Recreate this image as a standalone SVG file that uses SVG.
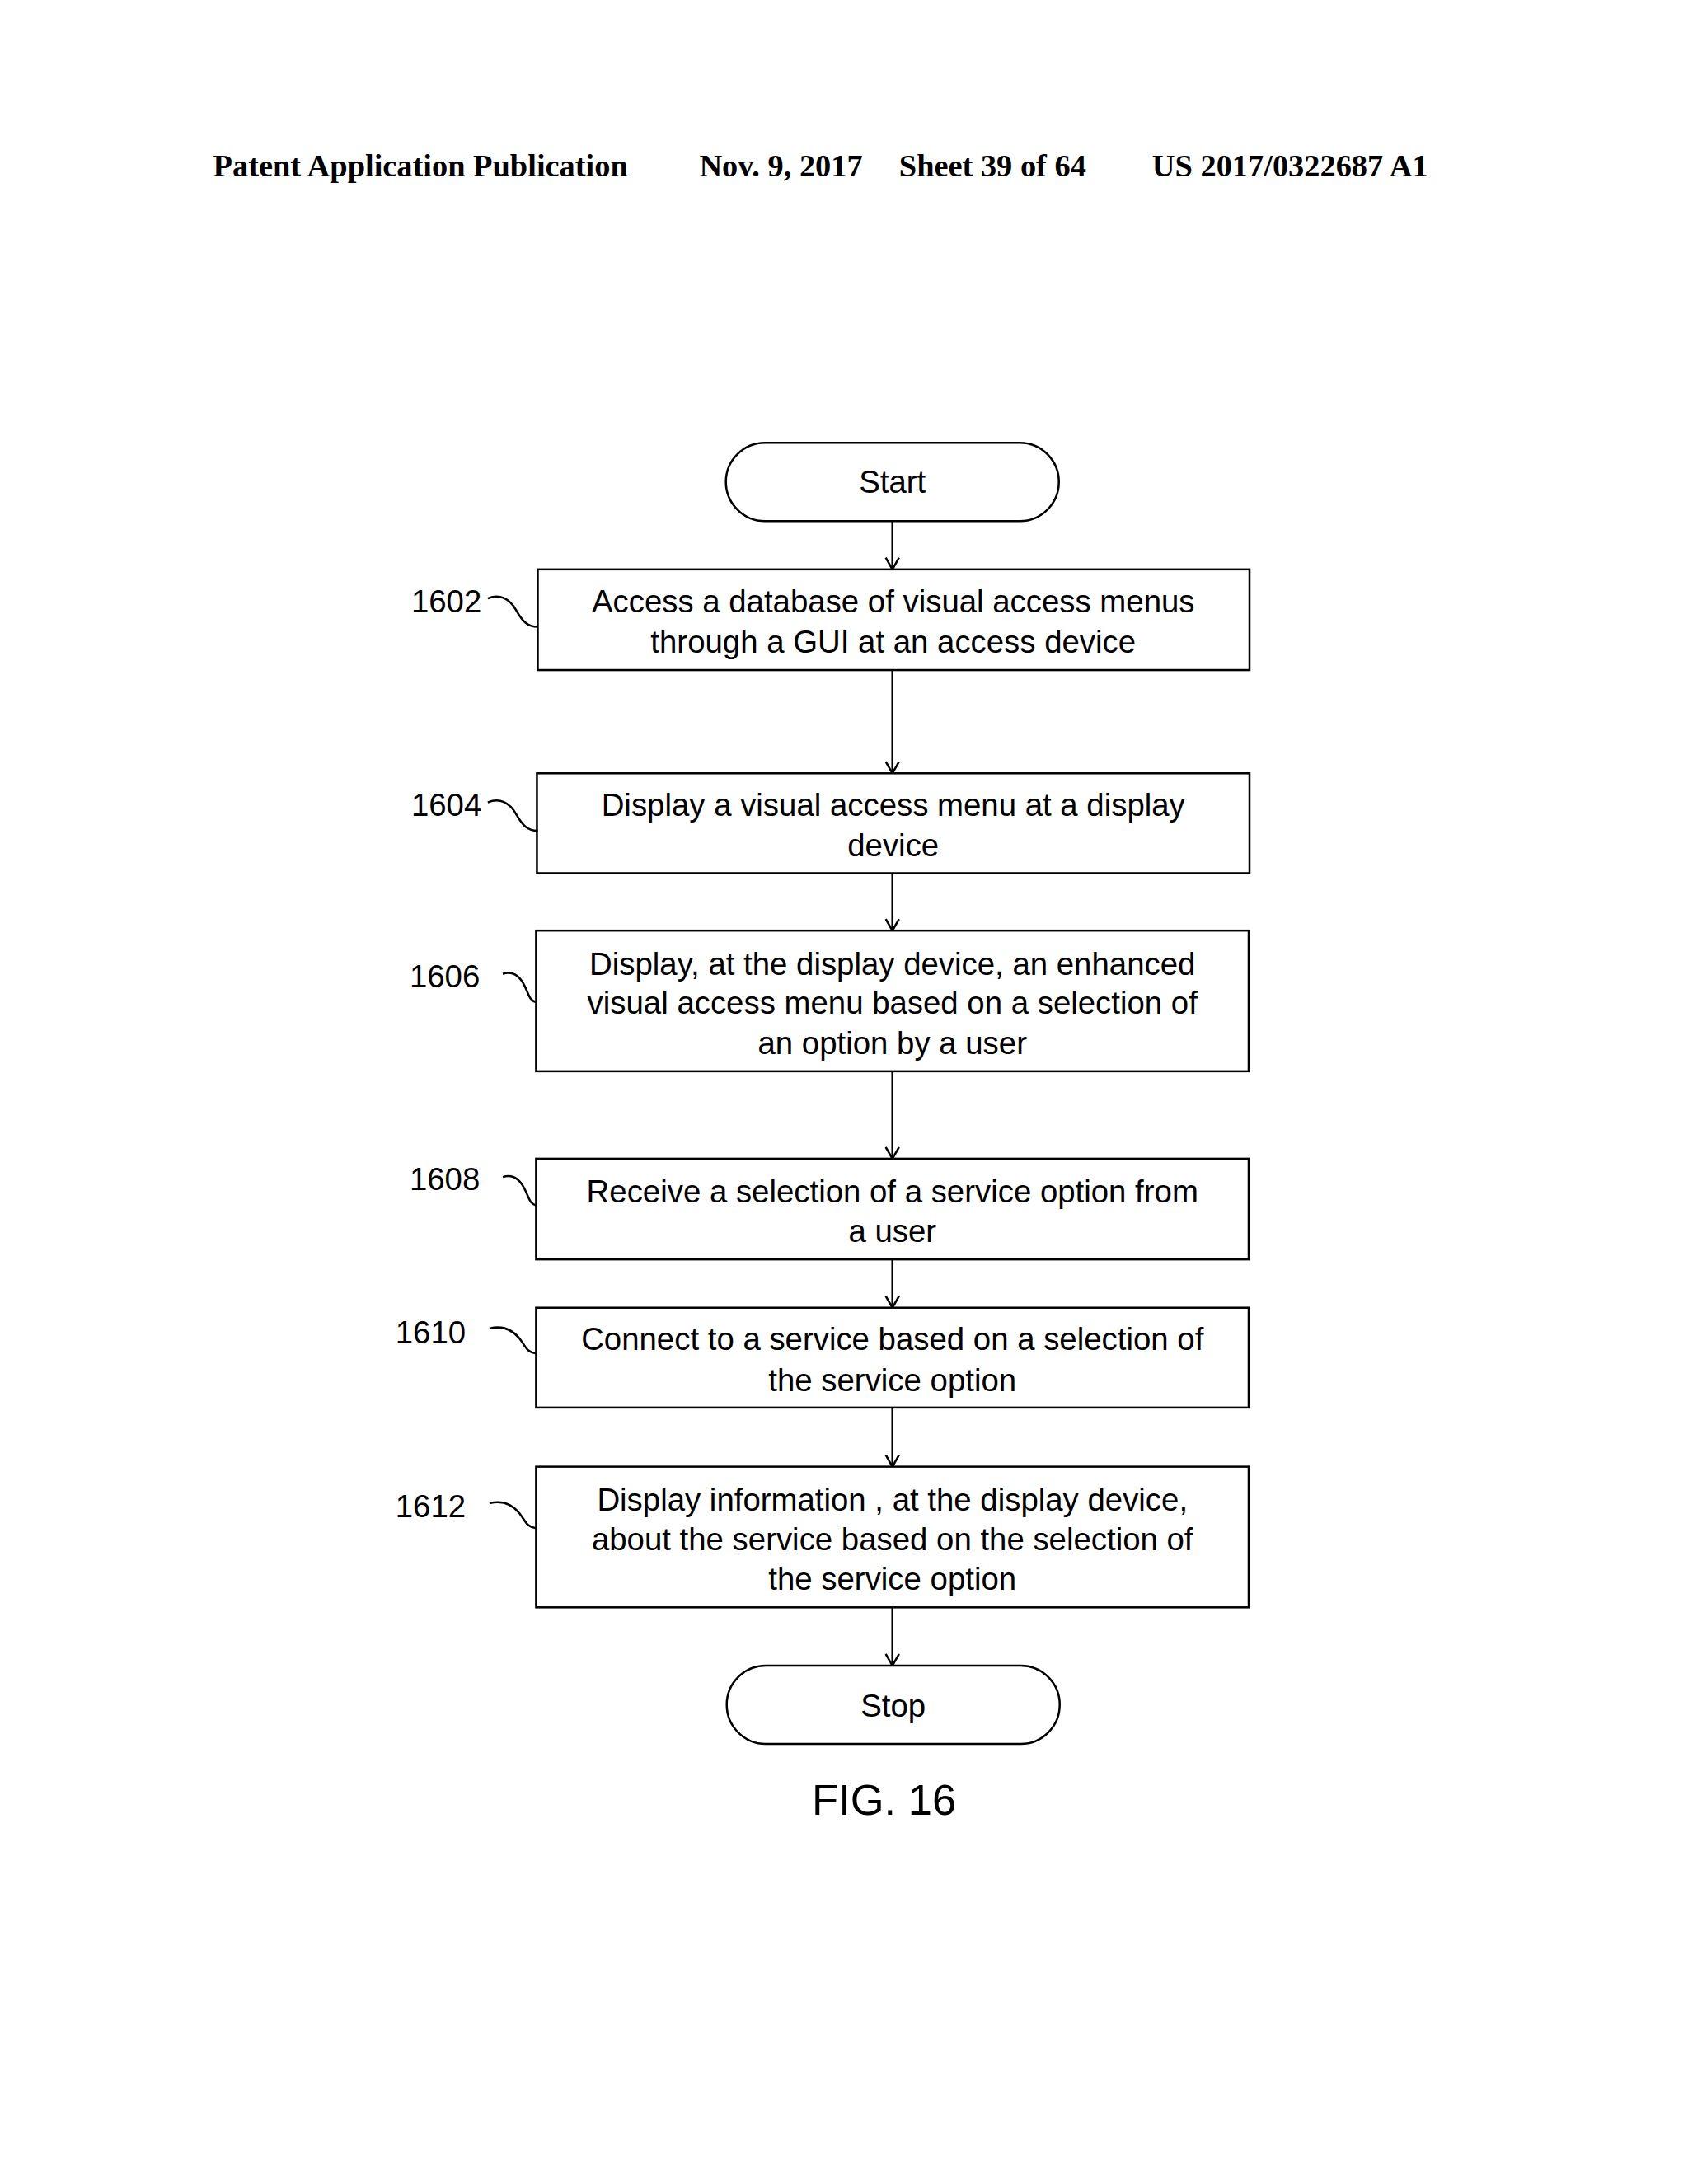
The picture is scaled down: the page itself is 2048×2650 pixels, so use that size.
<svg xmlns="http://www.w3.org/2000/svg" width="2048" height="2650" viewBox="0 0 2048 2650">
<style>
.h{font-family:"Liberation Serif",serif;font-weight:bold;font-size:38px}
.t{font-family:"Liberation Sans",Arial,sans-serif;font-size:38px;text-anchor:middle}
.l{font-family:"Liberation Sans",Arial,sans-serif;font-size:38px}
.b{fill:#fff;stroke:#000;stroke-width:2.5}
.c{fill:none;stroke:#000;stroke-width:2.5}
</style>
<defs><marker id="a" viewBox="0 0 20 20" refX="20" refY="10" markerWidth="20" markerHeight="20" markerUnits="userSpaceOnUse" orient="auto"><path d="M6 2 L20 10 L6 18" fill="none" stroke="#000" stroke-width="2.5"/></marker></defs>
<rect width="2048" height="2650" fill="#fff"/>
<g transform="scale(1.01)">
<text class="h" x="256" y="212">Patent Application Publication</text>
<text class="h" x="840" y="212">Nov. 9, 2017</text>
<text class="h" x="1080" y="212">Sheet 39 of 64</text>
<text class="h" x="1384" y="212">US 2017/0322687 A1</text>
<g id="start"><rect class="b" x="872" y="532" width="400" height="94" rx="47"/><text class="t" x="1072" y="592">Start</text></g>
<g id="n1602"><rect class="b" x="646" y="684" width="855" height="121"/><text class="t" x="1073" y="736">Access a database of visual access menus</text><text class="t" x="1073" y="784">through a GUI at an access device</text><text class="l" x="494" y="736">1602</text></g>
<g id="n1604"><rect class="b" x="645" y="929" width="856" height="120"/><text class="t" x="1073" y="980">Display a visual access menu at a display</text><text class="t" x="1073" y="1029">device</text><text class="l" x="494" y="980">1604</text></g>
<g id="n1606"><rect class="b" x="644" y="1118" width="856" height="169"/><text class="t" x="1072" y="1171">Display, at the display device, an enhanced</text><text class="t" x="1072" y="1218">visual access menu based on a selection of</text><text class="t" x="1072" y="1266">an option by a user</text><text class="l" x="492" y="1186">1606</text></g>
<g id="n1608"><rect class="b" x="644" y="1392" width="856" height="121"/><text class="t" x="1072" y="1445">Receive a selection of a service option  from</text><text class="t" x="1072" y="1492">a user</text><text class="l" x="492" y="1430">1608</text></g>
<g id="n1610"><rect class="b" x="644" y="1571" width="856" height="120"/><text class="t" x="1072" y="1622">Connect to a service based on  a selection of</text><text class="t" x="1072" y="1671">the service option</text><text class="l" x="475" y="1614">1610</text></g>
<g id="n1612"><rect class="b" x="644" y="1762" width="856" height="169"/><text class="t" x="1072" y="1815">Display information , at the display device,</text><text class="t" x="1072" y="1862">about the service based on the selection of</text><text class="t" x="1072" y="1910">the service option</text><text class="l" x="475" y="1823">1612</text></g>
<g id="stop"><rect class="b" x="873" y="2001" width="400" height="94" rx="47"/><text class="t" x="1073" y="2062">Stop</text></g>
<text x="1062" y="2180" style="font-family:'Liberation Sans',Arial,sans-serif;font-size:52px;text-anchor:middle">FIG. 16</text>
<g id="connectors">
<path class="c" d="M1072 626V684" marker-end="url(#a)"/>
<path class="c" d="M1072 805V929" marker-end="url(#a)"/>
<path class="c" d="M1072 1049V1118" marker-end="url(#a)"/>
<path class="c" d="M1072 1287V1392" marker-end="url(#a)"/>
<path class="c" d="M1072 1513V1571" marker-end="url(#a)"/>
<path class="c" d="M1072 1691V1762" marker-end="url(#a)"/>
<path class="c" d="M1072 1931V2001" marker-end="url(#a)"/>
<path class="c" d="M586 719c14-6 26 0 34 14s14 20 26 20"/>
<path class="c" d="M586 964c14-6 26 0 34 14s14 20 26 20"/>
<path class="c" d="M604 1170c12-4 20 2 26 14s6 18 14 20"/>
<path class="c" d="M604 1414c12-4 20 2 26 14s6 18 14 20"/>
<path class="c" d="M588 1596c16-4 28 2 36 12s8 16 20 18"/>
<path class="c" d="M588 1806c16-4 28 2 36 12s8 16 20 18"/>
</g>
</g>
</svg>
